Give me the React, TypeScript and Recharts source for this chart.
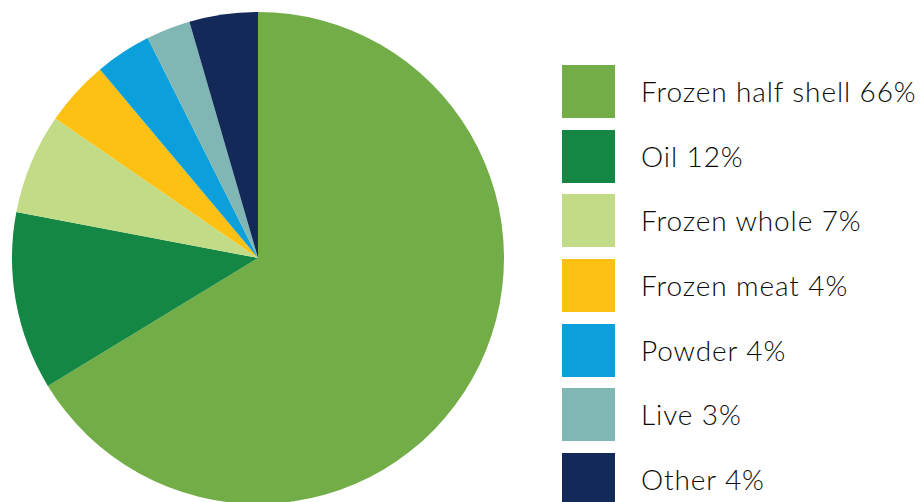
import { PieChart, Pie, Cell, Legend } from 'recharts';

const categories = ['Frozen half shell', 'Oil', 'Frozen whole', 'Frozen meat', 'Powder', 'Live', 'Other'];
const shares = [66.3, 11.7, 6.6, 4.3, 3.7, 2.9, 4.5];
const legendLabels = ['66%', '12%', '7%', '4%', '4%', '3%', '4%'];
const COLORS = ['#72AD47', '#148744', '#C2DB87', '#FDC113', '#0BA0DC', '#80B7B4', '#132A59'];

const data = categories.map((name, i) => ({ name, value: shares[i], label: legendLabels[i] }));

function LegendList() {
  return (
    <div style={{ display: 'flex', flexDirection: 'column' }}>
      {data.map((item, index) => (
        <div
          key={item.name}
          style={{ display: 'flex', alignItems: 'center', height: 53, marginBottom: 11.7 }}
        >
          <div style={{ width: 53, height: 53, backgroundColor: COLORS[index] }} />
          <span
            style={{
              marginLeft: 26,
              fontFamily: 'Lato, sans-serif',
              fontWeight: 300,
              fontSize: 28,
              letterSpacing: 0.9,
              color: '#0a0a0a',
              whiteSpace: 'nowrap',
              lineHeight: '53px',
            }}
          >
            {item.name} {item.label}
          </span>
        </div>
      ))}
    </div>
  );
}

export default function App() {
  return (
    <div style={{ position: 'absolute', left: 0, top: 0, width: 920, height: 502, background: '#fff', overflow: 'hidden' }}>
      <PieChart width={920} height={502} margin={{ top: 0, right: 0, bottom: 0, left: 0 }}>
        <Pie
          data={data}
          dataKey="value"
          nameKey="name"
          cx={258}
          cy={258}
          outerRadius={246}
          startAngle={90}
          endAngle={-270}
          stroke="none"
          isAnimationActive={false}
        >
          {data.map((_, index) => (
            <Cell key={`cell-${index}`} fill={COLORS[index]} />
          ))}
        </Pie>
        <Legend
          content={() => <LegendList />}
          wrapperStyle={{ position: 'absolute', left: 562, top: 65, width: 358, bottom: 'auto' }}
        />
      </PieChart>
    </div>
  );
}
